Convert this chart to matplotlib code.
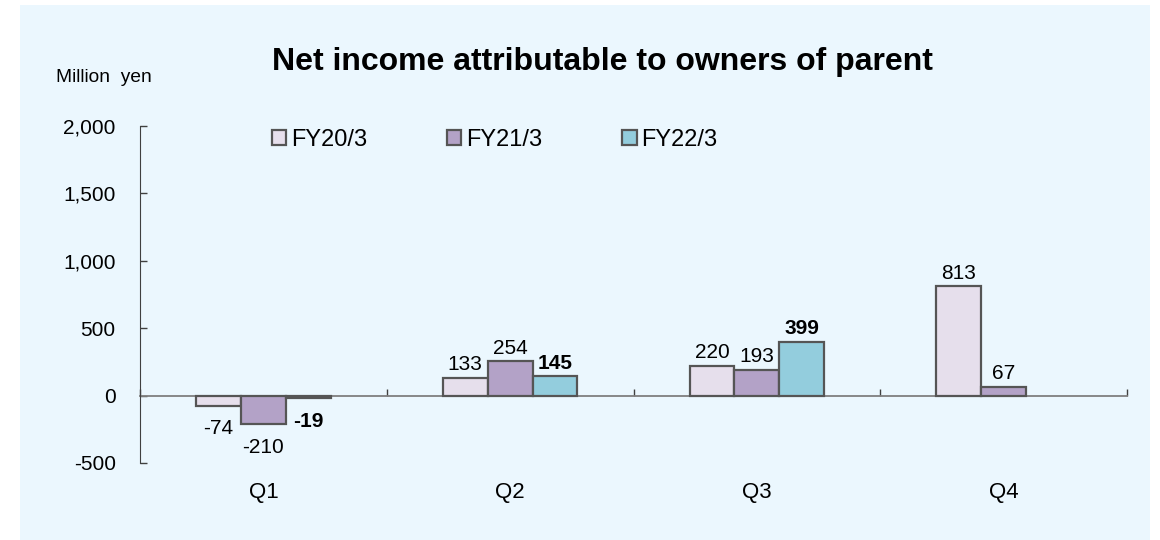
import numpy as np
import matplotlib.pyplot as plt
from matplotlib.patches import Rectangle

plt.rcParams['font.family'] = ['Liberation Sans', 'DejaVu Sans']

# Data (million yen)
quarters = ['Q1', 'Q2', 'Q3', 'Q4']
series_names = ['FY20/3', 'FY21/3', 'FY22/3']
fy20 = [-74, 133, 220, 813]
fy21 = [-210, 254, 193, 67]
fy22 = [-19, 145, 399, None]
y_ticks = [-500, 0, 500, 1000, 1500, 2000]

colors = ['#E6DFEC', '#B3A2C7', '#93CDDD']
bold_labels = [False, False, True]

fig = plt.figure(figsize=(11.6, 5.4), dpi=100)
fig.patch.set_facecolor('white')
# light blue panel behind the chart
fig.patches.append(Rectangle((20 / 1160, 0), 1130 / 1160, 535 / 540,
                             transform=fig.transFigure, facecolor='#EBF7FE',
                             edgecolor='none', zorder=-5))

ax = fig.add_axes([140 / 1160, 1 - 463 / 540, 987 / 1160, 337 / 540])
ax.set_facecolor('none')
ax.set_zorder(2)

x = np.arange(len(quarters))
width = 0.182
all_series = [fy20, fy21, fy22]

for i, (name, vals) in enumerate(zip(series_names, all_series)):
    xs = [xi + (i - 1) * width for xi, v in zip(x, vals) if v is not None]
    vs = [v for v in vals if v is not None]
    bars = ax.bar(xs, vs, width, color=colors[i], edgecolor='#555555',
                  linewidth=1.6, label=name, zorder=3)
    for b, v in zip(bars, vs):
        off = 2.5 if v >= 0 else -10
        ax.annotate(f'{v:,}', (b.get_x() + b.get_width() / 2, v),
                    xytext=(0, off), textcoords='offset points',
                    ha='center', va='bottom' if v >= 0 else 'top',
                    fontsize=15, fontweight='bold' if bold_labels[i] else 'normal')

ax.set_xlim(-0.5, len(quarters) - 0.5)
ax.set_ylim(-500, 2000)
ax.set_yticks(y_ticks)
ax.set_yticklabels([f'{t:,}' for t in y_ticks], fontsize=15)
ax.tick_params(axis='y', direction='in', length=5, width=1, color='#404040', pad=17.5)

# zero line acts as category axis
ax.spines['bottom'].set_position(('data', 0))
ax.spines['bottom'].set_color('#7F7F7F')
ax.spines['bottom'].set_linewidth(1.3)
ax.spines['bottom'].set_zorder(2)
ax.spines['left'].set_color('#404040')
ax.spines['top'].set_visible(False)
ax.spines['right'].set_visible(False)
ax.set_xticks(np.arange(len(quarters) + 1) - 0.5)
ax.set_xticklabels([])
ax.tick_params(axis='x', direction='in', length=5, width=1, color='#404040')

for xi, q in zip(x, quarters):
    ax.text(xi, -0.089, q, transform=ax.get_xaxis_transform(),
            ha='center', va='center', fontsize=16)

fig.text(56 / 1160, 1 - 77 / 540, 'Million  yen', fontsize=13.8, va='center', ha='left')
fig.text(602 / 1160, 1 - 62 / 540, 'Net income attributable to owners of parent',
         fontsize=23, fontweight='bold', ha='center', va='center')

leg = ax.legend(loc='upper left', bbox_to_anchor=(0.112, 1.055), ncol=3,
                frameon=False, fontsize=17, handlelength=0.6, handleheight=0.6,
                handletextpad=0.2, columnspacing=3.4)

fig.savefig('out.png', dpi=100, facecolor=fig.get_facecolor())
